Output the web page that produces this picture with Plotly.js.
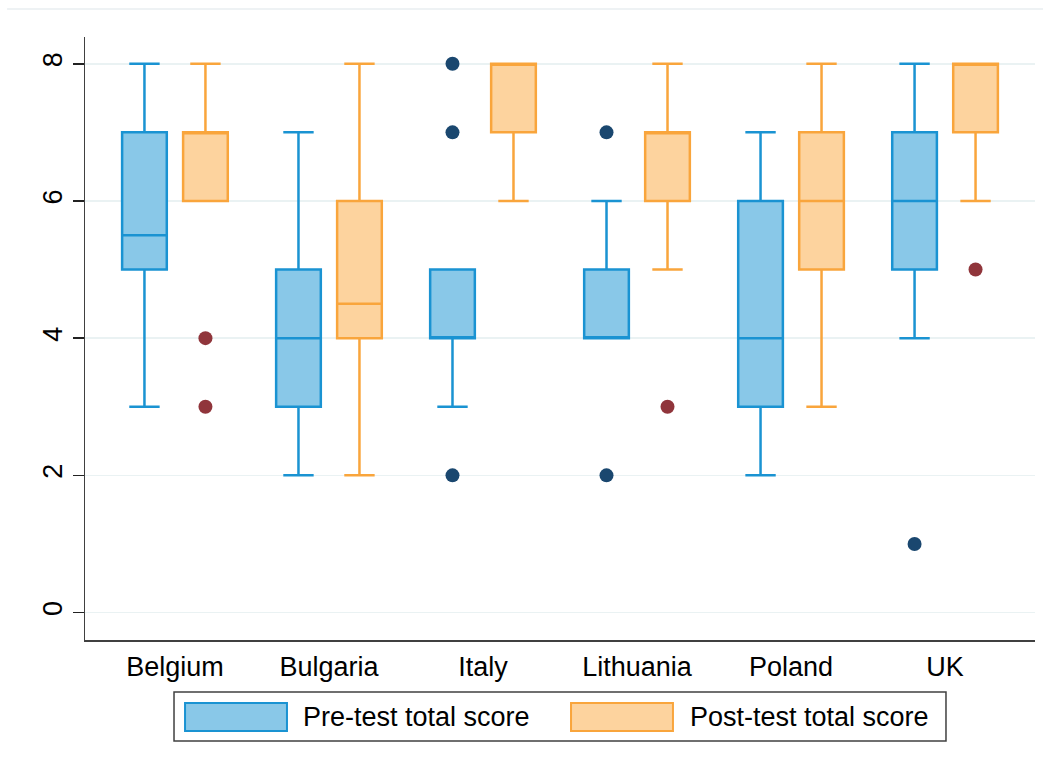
<!DOCTYPE html>
<html>
<head>
<meta charset="utf-8">
<script src="https://cdn.plot.ly/plotly-3.0.1.min.js"></script>
<style>html,body{margin:0;padding:0;background:#fff;}#chart{width:1050px;height:771px;}</style>
</head>
<body>
<div id="chart"></div>
<script>
// ---- data ----
var countries = ['Belgium', 'Bulgaria', 'Italy', 'Lithuania', 'Poland', 'UK'];

var preLower  = [3, 2, 3, 4, 2, 4];
var preQ1     = [5, 3, 4, 4, 3, 5];
var preMedian = [5.5, 4, 4, 4, 4, 6];
var preQ3     = [7, 5, 5, 5, 6, 7];
var preUpper  = [8, 7, 5, 6, 7, 8];
var preOutlierCountry = ['Italy', 'Italy', 'Italy', 'Lithuania', 'Lithuania', 'UK'];
var preOutlierValue   = [8, 7, 2, 7, 2, 1];

var postLower  = [6, 2, 6, 5, 3, 6];
var postQ1     = [6, 4, 7, 6, 5, 7];
var postMedian = [7, 4.5, 8, 7, 6, 8];
var postQ3     = [7, 6, 8, 7, 7, 8];
var postUpper  = [8, 8, 8, 8, 8, 8];
var postOutlierCountry = ['Belgium', 'Belgium', 'Lithuania', 'UK'];
var postOutlierValue   = [4, 3, 3, 5];

var yTicks = [0, 2, 4, 6, 8];
var seriesNames = ['Pre-test total score', 'Post-test total score'];

// ---- styles ----
var preFill = '#89c8e8', preLine = '#1a93d2', preDot = '#1a476f';
var postFill = '#fdd39e', postLine = '#f9a53c', postDot = '#90353b';
var offset = 0.198, boxW = 0.29;
var font = 'Liberation Sans, Arial, Helvetica, sans-serif';
var fs = 27;

function idx(c) { return countries.indexOf(c); }
var pos = countries.map(function (c, i) { return i; });

var traces = [
  {
    type: 'box', name: seriesNames[0],
    x: pos.map(function (p) { return p - offset; }),
    q1: preQ1, median: preMedian, q3: preQ3,
    lowerfence: preLower, upperfence: preUpper,
    width: boxW, whiskerwidth: 0.68,
    fillcolor: preFill, line: { color: preLine, width: 2.5 },
    boxpoints: false, hoverinfo: 'skip', showlegend: false
  },
  {
    type: 'box', name: seriesNames[1],
    x: pos.map(function (p) { return p + offset; }),
    q1: postQ1, median: postMedian, q3: postQ3,
    lowerfence: postLower, upperfence: postUpper,
    width: boxW, whiskerwidth: 0.68,
    fillcolor: postFill, line: { color: postLine, width: 2.5 },
    boxpoints: false, hoverinfo: 'skip', showlegend: false
  },
  {
    type: 'scatter', mode: 'markers',
    x: preOutlierCountry.map(function (c) { return idx(c) - offset; }),
    y: preOutlierValue,
    marker: { color: preDot, size: 14 }, hoverinfo: 'skip', showlegend: false
  },
  {
    type: 'scatter', mode: 'markers',
    x: postOutlierCountry.map(function (c) { return idx(c) + offset; }),
    y: postOutlierValue,
    marker: { color: postDot, size: 14 }, hoverinfo: 'skip', showlegend: false
  }
];

// legend drawn in paper coords
var shapes = [
  { type: 'line', xref: 'paper', yref: 'paper', x0: -0.082, x1: 1.0084, y0: 1.0464, y1: 1.0464,
    line: { color: '#e8eef0', width: 1.5 } },
  { type: 'rect', xref: 'paper', yref: 'paper', x0: 0.0937, x1: 0.9063, y0: -0.0862, y1: -0.1675,
    line: { color: '#404040', width: 1.5 }, fillcolor: 'rgba(0,0,0,0)' },
  { type: 'rect', xref: 'paper', yref: 'paper', x0: 0.1053, x1: 0.2126, y0: -0.1045, y1: -0.1509,
    line: { color: preLine, width: 2 }, fillcolor: preFill },
  { type: 'rect', xref: 'paper', yref: 'paper', x0: 0.5116, x1: 0.6189, y0: -0.1045, y1: -0.1509,
    line: { color: postLine, width: 2 }, fillcolor: postFill }
];
var annotations = [
  { xref: 'paper', yref: 'paper', x: 0.2275, y: -0.1277, xanchor: 'left', yanchor: 'middle',
    text: seriesNames[0], showarrow: false, font: { family: font, size: fs, color: '#000' } },
  { xref: 'paper', yref: 'paper', x: 0.6348, y: -0.1277, xanchor: 'left', yanchor: 'middle',
    text: seriesNames[1], showarrow: false, font: { family: font, size: fs, color: '#000' } }
];

var layout = {
  width: 1050, height: 771,
  margin: { l: 85, r: 15, t: 37, b: 131 },
  paper_bgcolor: '#fff', plot_bgcolor: '#fff',
  font: { family: font, size: fs, color: '#000' },
  showlegend: false,
  xaxis: {
    range: [-0.584, 5.584],
    tickvals: pos, ticktext: countries,
    ticks: '', showgrid: false, zeroline: false,
    showline: true, linecolor: '#404040', linewidth: 1.5,
    ticklabelstandoff: 2,
    tickfont: { family: font, size: fs, color: '#000' }
  },
  yaxis: {
    range: [-0.40, 8.39],
    tickvals: yTicks, ticktext: yTicks.map(String),
    ticks: 'outside', ticklen: 11, tickwidth: 1.5, tickcolor: '#222',
    tickangle: -90,
    showgrid: true, gridcolor: '#eaf2f3', gridwidth: 1.5,
    zeroline: false,
    showline: true, linecolor: '#404040', linewidth: 1.5,
    ticklabelstandoff: 0,
    tickfont: { family: font, size: fs, color: '#000' }
  },
  shapes: shapes,
  annotations: annotations
};

Plotly.newPlot('chart', traces, layout, { displayModeBar: false, staticPlot: true });
</script>
</body>
</html>
